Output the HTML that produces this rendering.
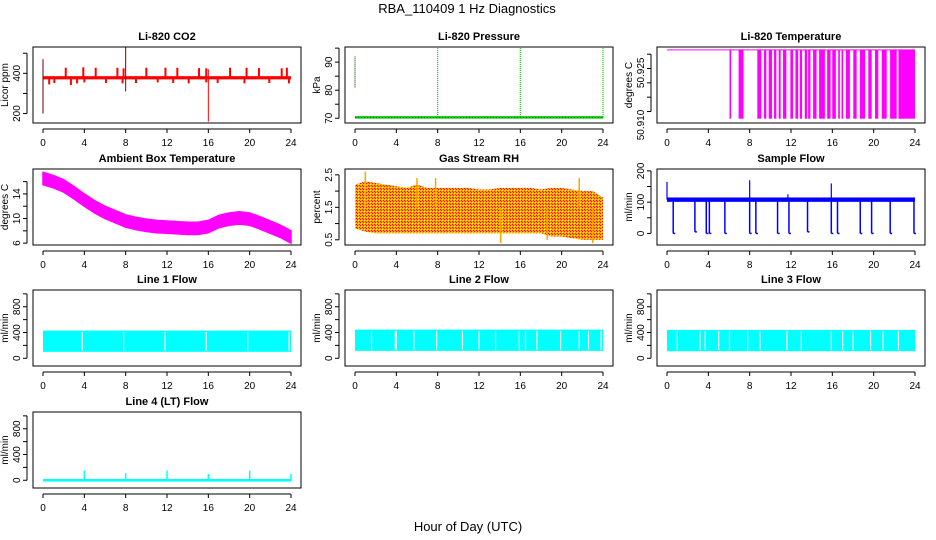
<!DOCTYPE html>
<html><head><meta charset="utf-8">
<style>
body{margin:0;background:#fff}
svg{display:block;font-family:"Liberation Sans",Arial,sans-serif}
.pt{font-size:11px;font-weight:bold;text-anchor:middle}
.tk{font-size:10px}
</style></head>
<body>
<svg id="fig" width="936" height="540" viewBox="0 0 936 540">
<defs>
<pattern id="rhpat" width="3" height="3" patternUnits="userSpaceOnUse">
<rect width="3" height="3" fill="#ffa500"/>
<rect x="0" y="0" width="1" height="1" fill="#ff0000"/>
<rect x="1" y="1" width="1" height="1" fill="#ffff00"/>
<rect x="2" y="2" width="1" height="1" fill="#ff0000"/>
</pattern>
</defs>
<text x="467" y="13" font-size="13" text-anchor="middle">RBA_110409  1 Hz Diagnostics</text>
<text x="468" y="531" font-size="13" text-anchor="middle">Hour of Day (UTC)</text>
</svg>
<script>
// ---- data ----
const hours = [0,1,2,3,4,5,6,7,8,9,10,11,12,13,14,15,16,17,18,19,20,21,22,23,24];
const xTicks = [0,4,8,12,16,20,24];
// CO2
const co2Base = 378;
const co2UpSpikes = [2.2,3.9,5.1,7.2,7.8,10.0,11.85,13.0,15.1,15.8,18.1,19.7,20.9,23.1,23.6];
const co2UpVals = [428,430,428,428,425,428,428,428,426,425,428,428,426,425,428];
const co2DownSpikes = [0.6,1.1,2.7,3.3,4.0,6.1,7.7,9.0,11.1,12.6,14.1,15.8,16.9,19.5,21.9,23.8];
const co2DownVals = [345,352,342,350,355,352,350,352,355,352,350,355,352,350,352,350];
const co2BigHours = [0,8,16];
const co2BigLow = [200,310,160];
const co2BigHigh = [470,530,420];
// Pressure
const presBase = 70.3;
const presSpikeHours = [0,8,16,24];
const presSpikeLow = [81,70.5,70.5,70.5];
const presSpikeHigh = [92,95,95,95];
// Li-820 temperature
const tempHigh = 50.9315;
const tempLow = 50.9075;
const tempLowStart = [6.05,6.93,8.74,9.39,9.84,10.36,10.81,11.23,11.94,12.43,12.85,13.33,13.66,14.14,14.72,15.5,15.99,16.57,16.89,17.31,18.03,18.67,19.48,20.13,20.78,21.59,22.4];
const tempLowEnd = [6.21,7.41,9.13,9.61,10.16,10.58,11.0,11.55,12.2,12.69,13.07,13.56,13.88,14.47,15.28,15.83,16.34,16.73,17.05,17.7,18.35,19.17,19.81,20.45,21.26,22.23,24.0];
// Ambient box temperature
const ambCenter = [16.5,16.0,15.3,14.2,13.0,11.9,11.0,10.3,9.6,9.2,8.9,8.7,8.6,8.5,8.4,8.4,8.7,9.5,9.9,10.1,9.9,9.3,8.6,7.9,7.0];
const ambHalfWidth = 1.0;
// Gas stream RH
const rhUpper = [2.2,2.3,2.25,2.2,2.15,2.1,2.2,2.1,2.1,2.1,2.1,2.1,2.05,2.05,2.1,2.1,2.1,2.1,2.05,2.1,2.1,2.05,2.0,2.0,1.8];
const rhLower = [0.85,0.75,0.7,0.7,0.7,0.7,0.7,0.7,0.7,0.7,0.7,0.7,0.7,0.7,0.7,0.7,0.7,0.7,0.7,0.6,0.6,0.55,0.5,0.5,0.5];
const rhSpikeHours = [1.0,6.0,7.8,14.1,18.6,21.7,23.0];
const rhSpikeVals = [2.6,2.4,2.4,0.4,0.5,2.4,0.4];
// Sample flow
const sfBase = 108;
const sfDropHours = [0.6,2.7,3.8,4.1,5.6,8.0,8.6,10.7,11.8,13.6,15.9,16.5,18.7,19.8,21.6,23.9];
const sfDropVals = [0,5,0,0,0,0,0,0,0,5,0,0,0,0,0,0];
const sfSpikeHours = [0,8,11.7,15.9];
const sfSpikeVals = [165,170,125,160];
// Line flows
const l1Upper = 430, l1Lower = 100;
const l1Gaps = [3.8,7.8,11.8,15.8,19.8,23.8];
const l2Upper = 445, l2Lower = 115;
const l2Gaps = [1.6,3.9,4.0,5.7,7.9,10.4,12.0,13.6,15.9,16.5,17.6,19.9,21.7,22.6,23.8];
const l3Upper = 440, l3Lower = 110;
const l3Gaps = [1.0,3.2,3.7,5.0,6.05,7.8,9.0,11.6,13.0,15.9,17.0,18.0,19.7,20.9,22.4];
const l4Base = 0;
const l4SpikeHours = [4,8,12,16,20,24];
const l4SpikeVals = [150,110,150,100,150,100];

// ---- drawing helpers ----
const NS = "http://www.w3.org/2000/svg";
const svg = document.getElementById('fig');
const rowTop = [47,169,290,412];
const PH = 76;
function mk(tag, attrs, parent){
  const e = document.createElementNS(NS, tag);
  for (const k in attrs) e.setAttribute(k, attrs[k]);
  (parent||svg).appendChild(e);
  return e;
}
function panel(col,row,title,ylab,ymin,ymax,yTicks,yLabels,name){
  const L = 33+312*col, R = L+268, T = rowTop[row], B = T+PH;
  const g = mk('g',{});
  
  
  const xs = h => L+10+h*248/24;
  const ys = v => B-(v-ymin)/(ymax-ymin)*PH;
  const plot = mk('g',{},g);
  
  
  const frame = mk('rect',{x:L,y:T,width:R-L,height:PH,fill:'none',stroke:'#000','stroke-width':1},g);
  
  
  const t = mk('text',{x:(L+R)/2,y:T-7,class:'pt'},g);
  t.textContent = title;
  
  
  const xa = mk('g',{},g);
  
  
  mk('line',{x1:xs(0),x2:xs(24),y1:B+6,y2:B+6,stroke:'#000'},xa);
  xTicks.forEach(h=>{
    mk('line',{x1:xs(h),x2:xs(h),y1:B+6,y2:B+10,stroke:'#000'},xa);
    const tx = mk('text',{x:xs(h),y:B+23,class:'tk','text-anchor':'middle'},xa);
    tx.textContent = h;
  });
  const ya = mk('g',{},g);
  
  
  mk('line',{x1:L-6,x2:L-6,y1:ys(yTicks[0]),y2:ys(yTicks[yTicks.length-1]),stroke:'#000'},ya);
  yTicks.forEach(v=>{
    mk('line',{x1:L-10,x2:L-6,y1:ys(v),y2:ys(v),stroke:'#000'},ya);
  });
  yLabels.forEach(v=>{
    const tx = mk('text',{x:0,y:0,class:'tk','text-anchor':'middle',transform:`translate(${L-13},${ys(v)}) rotate(-90)`},ya);
    tx.textContent = v;
  });
  const yl = mk('text',{x:0,y:0,class:'tk','text-anchor':'middle',transform:`translate(${L-25},${(T+B)/2}) rotate(-90)`},g);
  yl.textContent = ylab;
  
  
  return {xs,ys,plot,L,R,T,B};
}
function vline(p,h,v1,v2,color,w){
  return mk('line',{x1:p.xs(h),x2:p.xs(h),y1:p.ys(v1),y2:p.ys(v2),stroke:color,'stroke-width':w||1},p.plot);
}

// CO2
let p = panel(0,0,'Li-820 CO2','Licor ppm',153,531,[200,300,400,500],[200,400],'co2');
mk('rect',{x:p.xs(0),y:p.ys(co2Base+8),width:p.xs(24)-p.xs(0),height:p.ys(co2Base-8)-p.ys(co2Base+8),fill:'#ff0000'},p.plot);
co2UpSpikes.forEach((h,i)=>vline(p,h,co2Base,co2UpVals[i],'#ff0000',2));
co2DownSpikes.forEach((h,i)=>vline(p,h,co2Base,co2DownVals[i],'#ff0000',2));
co2BigHours.forEach((h,i)=>vline(p,h,co2BigLow[i],co2BigHigh[i],i==1?'#800000':'#ff0000',1));
vline(p,0,co2BigLow[0],co2BigHigh[0],'#660000',1);

// Pressure
p = panel(1,0,'Li-820 Pressure','kPa',68.3,95.4,[70,75,80,85,90,95],[70,80,90],'pressure');
mk('line',{x1:p.xs(0),x2:p.xs(24),y1:p.ys(presBase),y2:p.ys(presBase),stroke:'#00d000','stroke-width':2.5},p.plot);
mk('line',{x1:p.xs(0),x2:p.xs(24),y1:p.ys(presBase),y2:p.ys(presBase),stroke:'#006000','stroke-width':1,'stroke-dasharray':'1 2'},p.plot);
presSpikeHours.forEach((h,i)=>{
  const l = vline(p,h,presSpikeLow[i],presSpikeHigh[i],i==0?'#006000':'#00c000',1.2);
  l.setAttribute('stroke-dasharray','1 1');
});

// Li-820 temperature
p = panel(2,0,'Li-820 Temperature','degrees C',50.906,50.9325,[50.910,50.915,50.920,50.925,50.930],[],'li820-temp');
mk('line',{x1:p.xs(0),x2:p.xs(24),y1:p.ys(tempHigh),y2:p.ys(tempHigh),stroke:'#ff00ff'},p.plot);
tempLowStart.forEach((s,i)=>{
  mk('rect',{x:p.xs(s),y:p.ys(tempHigh),width:Math.max(1.5,p.xs(tempLowEnd[i])-p.xs(s)),height:p.ys(tempLow)-p.ys(tempHigh),fill:'#ff00ff'},p.plot);
});
[['50.910',p.B+2],['50.925',p.ys(50.9235)]].forEach(([s,y])=>{
  const tx = mk('text',{x:0,y:0,class:'tk','text-anchor':'middle',transform:`translate(${p.L-13},${y}) rotate(-90)`});
  tx.textContent = s;
});

// Ambient
p = panel(0,1,'Ambient Box Temperature','degrees C',5.7,18.05,[6,8,10,12,14,16],[6,10,14],'ambient-temp');
{
  let up = hours.map((h,i)=>p.xs(h)+','+p.ys(ambCenter[i]+ambHalfWidth));
  let dn = hours.map((h,i)=>p.xs(h)+','+p.ys(ambCenter[i]-ambHalfWidth)).reverse();
  mk('polygon',{points:up.concat(dn).join(' '),fill:'#ff00ff',stroke:'#ff00ff','stroke-width':1.5},p.plot);
}

// Gas stream RH
p = panel(1,1,'Gas Stream RH','percent',0.34,2.68,[0.5,1.0,1.5,2.0,2.5],[0.5,1.5,2.5],'gas-rh');
{
  let up = hours.map((h,i)=>p.xs(h)+','+p.ys(rhUpper[i]));
  let dn = hours.map((h,i)=>p.xs(h)+','+p.ys(rhLower[i])).reverse();
  mk('polygon',{points:up.concat(dn).join(' '),fill:'url(#rhpat)'},p.plot);
  rhSpikeHours.forEach((h,i)=>vline(p,h,1.5,rhSpikeVals[i],'#ffa500',1.5));
}

// Sample flow
p = panel(2,1,'Sample Flow','ml/min',-37,206,[0,50,100,150,200],[0,100,200],'sample-flow');
mk('rect',{x:p.xs(0),y:p.ys(sfBase+7),width:p.xs(24)-p.xs(0),height:p.ys(sfBase-7)-p.ys(sfBase+7),fill:'#0000ff'},p.plot);
sfDropHours.forEach((h,i)=>{
  vline(p,h,sfBase,sfDropVals[i],'#0000ff',1.5);
  mk('line',{x1:p.xs(h),x2:p.xs(h)+2,y1:p.ys(sfDropVals[i]),y2:p.ys(sfDropVals[i]),stroke:'#0000ff','stroke-width':1.5},p.plot);
});
sfSpikeHours.forEach((h,i)=>vline(p,h,sfBase,sfSpikeVals[i],'#0000ff',1.2));

// Line flows
function flowPanel(col,row,title,name,upper,lower,gaps){
  const q = panel(col,row,title,'ml/min',-120,1060,[0,200,400,600,800,1000],[0,400,800],name);
  mk('rect',{x:q.xs(0),y:q.ys(upper),width:q.xs(24)-q.xs(0),height:q.ys(lower)-q.ys(upper),fill:'#00ffff'},q.plot);
  gaps.forEach(h=>vline(q,h,upper-20,lower+20,'#ffffff',1.2));
  return q;
}
flowPanel(0,2,'Line 1 Flow','line1-flow',l1Upper,l1Lower,l1Gaps);
flowPanel(1,2,'Line 2 Flow','line2-flow',l2Upper,l2Lower,l2Gaps);
flowPanel(2,2,'Line 3 Flow','line3-flow',l3Upper,l3Lower,l3Gaps);
p = panel(0,3,'Line 4 (LT) Flow','ml/min',-120,1060,[0,200,400,600,800,1000],[0,400,800],'line4-flow');
mk('rect',{x:p.xs(0),y:p.ys(l4Base+20),width:p.xs(24)-p.xs(0),height:p.ys(l4Base-20)-p.ys(l4Base+20),fill:'#00ffff'},p.plot);
l4SpikeHours.forEach((h,i)=>vline(p,h,l4Base,l4SpikeVals[i],'#00ffff',1.5));
</script>
</body></html>
